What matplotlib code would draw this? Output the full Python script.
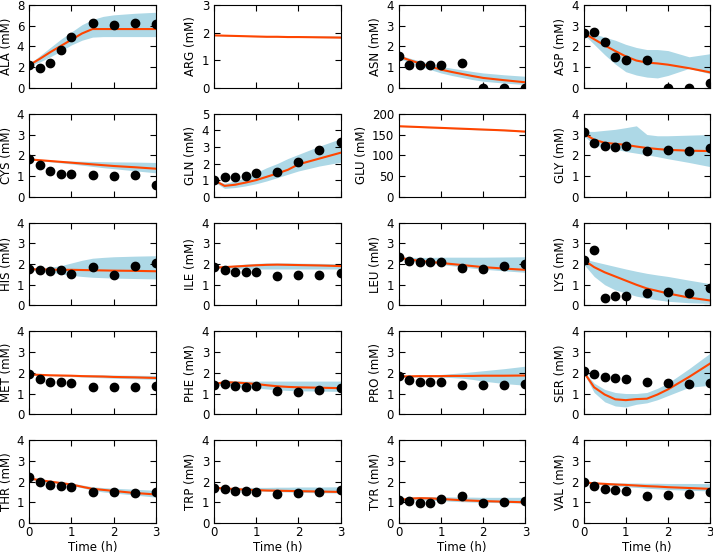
import numpy as np
import matplotlib
matplotlib.use('Agg')
import matplotlib.pyplot as plt

# measured time points (h)
t_data = [0, 0.25, 0.5, 0.75, 1, 1.5, 2, 2.5, 3]
# model time grid (h)
t_model = [0, 0.25, 0.5, 0.75, 1, 1.25, 1.5, 1.75, 2, 2.5, 3]

names = ['ALA', 'ARG', 'ASN', 'ASP',
         'CYS', 'GLN', 'GLU', 'GLY',
         'HIS', 'ILE', 'LEU', 'LYS',
         'MET', 'PHE', 'PRO', 'SER',
         'THR', 'TRP', 'TYR', 'VAL']

ylims = {'ALA': 8, 'ARG': 3, 'GLN': 5, 'GLU': 200}
ysteps = {'ALA': 2, 'GLU': 50}

# measured concentrations (mM); None = not measured
obs = {
    'ALA': [2.2, 1.9, 2.4, 3.7, 4.9, 6.25, 6.1, 6.25, 6.2],
    'ARG': None,
    'ASN': [1.55, 1.1, 1.1, 1.1, 1.12, 1.18, 0.0, 0.0, 0.0],
    'ASP': [2.65, 2.7, 2.2, 1.5, 1.35, 1.35, 0.0, 0.0, 0.25],
    'CYS': [1.82, 1.55, 1.22, 1.1, 1.08, 1.05, 1.02, 1.05, 0.58],
    'GLN': [1.0, 1.2, 1.2, 1.25, 1.4, 1.5, 2.1, 2.8, 3.3],
    'GLU': None,
    'GLY': [3.1, 2.6, 2.45, 2.42, 2.45, 2.2, 2.25, 2.2, 2.35],
    'HIS': [1.75, 1.72, 1.68, 1.72, 1.5, 1.85, 1.45, 1.92, 2.05],
    'ILE': [1.85, 1.7, 1.6, 1.6, 1.6, 1.42, 1.45, 1.45, 1.55],
    'LEU': [2.35, 2.15, 2.08, 2.08, 2.08, 1.8, 1.75, 1.9, 2.0],
    'LYS': [2.2, 2.7, 0.35, 0.48, 0.48, 0.6, 0.65, 0.6, 0.82],
    'MET': [1.95, 1.72, 1.58, 1.55, 1.5, 1.32, 1.3, 1.32, 1.35],
    'PHE': [1.4, 1.48, 1.35, 1.3, 1.38, 1.1, 1.08, 1.15, 1.25],
    'PRO': [1.85, 1.65, 1.55, 1.58, 1.55, 1.4, 1.42, 1.42, 1.48],
    'SER': [2.1, 1.95, 1.8, 1.75, 1.7, 1.55, 1.5, 1.45, 1.5],
    'THR': [2.2, 2.0, 1.85, 1.8, 1.75, 1.52, 1.48, 1.45, 1.48],
    'TRP': [1.7, 1.65, 1.55, 1.55, 1.52, 1.42, 1.45, 1.5, 1.6],
    'TYR': [1.1, 1.05, 0.95, 0.98, 1.15, 1.3, 0.97, 1.02, 1.05],
    'VAL': [2.0, 1.8, 1.65, 1.6, 1.55, 1.3, 1.35, 1.42, 1.5],
}

# model mean
fit = {
    'ALA': [2.2, 2.8, 3.45, 4.05, 4.65, 5.25, 5.68, 5.68, 5.68, 5.68, 5.68],
    'ARG': [1.90, 1.89, 1.88, 1.87, 1.86, 1.85, 1.85, 1.84, 1.84, 1.83, 1.82],
    'ASN': [1.52, 1.34, 1.18, 1.03, 0.88, 0.77, 0.67, 0.57, 0.48, 0.37, 0.27],
    'ASP': [2.65, 2.35, 2.05, 1.78, 1.52, 1.32, 1.22, 1.18, 1.12, 0.95, 0.75],
    'CYS': [1.8, 1.76, 1.72, 1.68, 1.64, 1.6, 1.56, 1.52, 1.48, 1.42, 1.35],
    'GLN': [1.0, 0.65, 0.72, 0.85, 1.0, 1.2, 1.4, 1.62, 1.95, 2.3, 2.65],
    'GLU': [170, 169, 168, 167, 166, 165, 164, 163, 162, 160, 157],
    'GLY': [3.05, 2.75, 2.6, 2.55, 2.5, 2.42, 2.35, 2.3, 2.26, 2.22, 2.2],
    'HIS': [1.75, 1.74, 1.73, 1.72, 1.72, 1.71, 1.7, 1.69, 1.68, 1.67, 1.65],
    'ILE': [1.82, 1.85, 1.88, 1.91, 1.94, 1.96, 1.97, 1.96, 1.95, 1.93, 1.9],
    'LEU': [2.3, 2.22, 2.15, 2.1, 2.05, 2.0, 1.95, 1.9, 1.85, 1.78, 1.72],
    'LYS': [2.2, 1.85, 1.6, 1.4, 1.2, 1.0, 0.82, 0.7, 0.58, 0.38, 0.24],
    'MET': [1.92, 1.9, 1.88, 1.87, 1.86, 1.84, 1.83, 1.82, 1.8, 1.78, 1.75],
    'PHE': [1.45, 1.55, 1.53, 1.5, 1.46, 1.4, 1.35, 1.32, 1.3, 1.28, 1.26],
    'PRO': [1.82, 1.83, 1.84, 1.84, 1.84, 1.85, 1.85, 1.85, 1.86, 1.86, 1.87],
    'SER': [2.05, 1.3, 0.95, 0.72, 0.68, 0.73, 0.75, 0.95, 1.2, 1.8, 2.45],
    'THR': [2.15, 2.07, 2.0, 1.93, 1.86, 1.75, 1.65, 1.6, 1.55, 1.45, 1.38],
    'TRP': [1.7, 1.67, 1.64, 1.61, 1.59, 1.57, 1.56, 1.55, 1.54, 1.52, 1.5],
    'TYR': [1.1, 1.18, 1.2, 1.19, 1.16, 1.13, 1.1, 1.08, 1.06, 1.03, 1.0],
    'VAL': [1.95, 1.92, 1.89, 1.86, 1.84, 1.81, 1.78, 1.76, 1.73, 1.69, 1.65],
}

# model band, upper
fit_hi = {
    'ALA': [2.3, 3.1, 3.9, 4.7, 5.4, 6.1, 6.6, 6.9, 7.05, 7.2, 7.3],
    'ARG': [1.91, 1.9, 1.89, 1.88, 1.88, 1.88, 1.88, 1.88, 1.88, 1.88, 1.88],
    'ASN': [1.6, 1.44, 1.3, 1.17, 1.04, 0.95, 0.87, 0.79, 0.72, 0.63, 0.56],
    'ASP': [2.7, 2.6, 2.45, 2.3, 2.1, 1.95, 1.85, 1.85, 1.8, 1.5, 1.65],
    'CYS': [1.82, 1.79, 1.76, 1.74, 1.72, 1.71, 1.7, 1.69, 1.68, 1.67, 1.65],
    'GLN': [1.0, 0.8, 0.95, 1.15, 1.45, 1.75, 2.0, 2.3, 2.55, 3.05, 3.5],
    'GLU': [171, 170, 169, 168, 167, 166, 165, 164, 163, 161, 158],
    'GLY': [3.15, 3.15, 3.2, 3.25, 3.33, 3.42, 3.0, 2.94, 2.94, 2.97, 3.0],
    'HIS': [1.8, 1.82, 1.85, 1.92, 2.05, 2.18, 2.28, 2.32, 2.35, 2.38, 2.4],
    'ILE': [1.85, 1.9, 1.95, 2.0, 2.03, 2.05, 2.05, 2.05, 2.04, 2.03, 2.02],
    'LEU': [2.35, 2.32, 2.32, 2.32, 2.33, 2.33, 2.33, 2.33, 2.33, 2.34, 2.35],
    'LYS': [2.25, 2.12, 2.0, 1.88, 1.76, 1.65, 1.55, 1.47, 1.4, 1.22, 1.05],
    'MET': [1.94, 1.93, 1.92, 1.91, 1.91, 1.9, 1.9, 1.9, 1.89, 1.88, 1.87],
    'PHE': [1.5, 1.65, 1.62, 1.6, 1.6, 1.6, 1.6, 1.6, 1.6, 1.6, 1.6],
    'PRO': [1.86, 1.87, 1.88, 1.9, 1.92, 1.96, 2.0, 2.05, 2.1, 2.2, 2.32],
    'SER': [2.1, 1.5, 1.2, 1.05, 1.0, 1.0, 1.05, 1.25, 1.5, 2.2, 2.95],
    'THR': [2.2, 2.12, 2.05, 1.99, 1.93, 1.84, 1.75, 1.71, 1.68, 1.63, 1.58],
    'TRP': [1.72, 1.72, 1.72, 1.72, 1.72, 1.72, 1.73, 1.73, 1.74, 1.74, 1.75],
    'TYR': [1.15, 1.25, 1.28, 1.28, 1.27, 1.26, 1.25, 1.25, 1.24, 1.24, 1.24],
    'VAL': [1.97, 1.96, 1.95, 1.94, 1.93, 1.93, 1.92, 1.92, 1.91, 1.91, 1.9],
}

# model band, lower
fit_lo = {
    'ALA': [2.1, 2.5, 3.0, 3.55, 4.15, 4.6, 4.9, 4.95, 4.95, 4.95, 4.95],
    'ARG': [1.89, 1.88, 1.87, 1.86, 1.85, 1.84, 1.84, 1.83, 1.83, 1.82, 1.81],
    'ASN': [1.42, 1.22, 1.05, 0.88, 0.72, 0.6, 0.5, 0.4, 0.32, 0.23, 0.16],
    'ASP': [2.6, 2.1, 1.6, 1.15, 0.78, 0.62, 0.52, 0.48, 0.6, 0.94, 0.68],
    'CYS': [1.78, 1.73, 1.68, 1.63, 1.58, 1.52, 1.46, 1.4, 1.35, 1.25, 1.15],
    'GLN': [0.9, 0.5, 0.55, 0.65, 0.78, 0.95, 1.15, 1.35, 1.55, 1.85, 2.08],
    'GLU': [169, 168, 167, 166, 165, 164, 163, 162, 161, 159, 156],
    'GLY': [2.95, 2.5, 2.38, 2.3, 2.18, 2.1, 2.02, 1.93, 1.83, 1.65, 1.45],
    'HIS': [1.7, 1.65, 1.6, 1.52, 1.45, 1.4, 1.36, 1.34, 1.32, 1.3, 1.28],
    'ILE': [1.8, 1.78, 1.77, 1.76, 1.76, 1.76, 1.76, 1.76, 1.76, 1.76, 1.76],
    'LEU': [2.25, 2.15, 2.08, 2.03, 1.98, 1.92, 1.86, 1.8, 1.75, 1.67, 1.6],
    'LYS': [2.0, 1.4, 1.0, 0.75, 0.6, 0.45, 0.35, 0.27, 0.2, 0.13, 0.1],
    'MET': [1.9, 1.88, 1.86, 1.84, 1.82, 1.8, 1.78, 1.76, 1.74, 1.71, 1.68],
    'PHE': [1.4, 1.4, 1.35, 1.3, 1.26, 1.22, 1.18, 1.15, 1.13, 1.12, 1.1],
    'PRO': [1.78, 1.79, 1.8, 1.8, 1.79, 1.77, 1.74, 1.68, 1.6, 1.48, 1.4],
    'SER': [2.0, 1.05, 0.6, 0.4, 0.35, 0.48, 0.55, 0.7, 0.9, 1.3, 1.4],
    'THR': [2.1, 2.02, 1.95, 1.88, 1.81, 1.7, 1.58, 1.5, 1.45, 1.35, 1.25],
    'TRP': [1.68, 1.64, 1.6, 1.57, 1.55, 1.53, 1.51, 1.5, 1.48, 1.46, 1.45],
    'TYR': [1.05, 1.1, 1.12, 1.1, 1.08, 1.05, 1.03, 1.01, 1.0, 0.98, 0.96],
    'VAL': [1.93, 1.88, 1.83, 1.79, 1.75, 1.72, 1.68, 1.65, 1.62, 1.58, 1.55],
}

plt.rcParams['font.family'] = 'DejaVu Sans'
plt.rcParams['font.size'] = 8.5
plt.rcParams['xtick.direction'] = 'in'
plt.rcParams['ytick.direction'] = 'in'
plt.rcParams['xtick.top'] = True
plt.rcParams['ytick.right'] = True
plt.rcParams['xtick.major.size'] = 4
plt.rcParams['ytick.major.size'] = 4
plt.rcParams['xtick.major.pad'] = 2.5
plt.rcParams['axes.labelpad'] = 3

fig, axes = plt.subplots(5, 4, figsize=(7.13, 5.57), dpi=100)
fig.subplots_adjust(left=0.041, right=0.996, top=0.991, bottom=0.061,
                    wspace=0.46, hspace=0.313)

for i, name in enumerate(names):
    ax = axes[i // 4][i % 4]
    ax.fill_between(t_model, fit_lo[name], fit_hi[name], color='lightblue',
                    linewidth=0)
    ax.plot(t_model, fit[name], color='orangered', lw=1.5)
    if obs[name] is not None:
        ax.plot(t_data, obs[name], 'o', color='black', ms=6)
    ymax = ylims.get(name, 4)
    ax.set_xlim(0, 3)
    ax.set_ylim(0, ymax)
    ax.set_xticks([0, 1, 2, 3])
    ax.set_yticks(np.arange(0, ymax + 0.1, ysteps.get(name, 1)))
    ax.set_ylabel(f'{name} (mM)')
    if i // 4 == 4:
        ax.set_xlabel('Time (h)', labelpad=1)
    else:
        ax.set_xticklabels([])

fig.savefig('out.png', dpi=100)
